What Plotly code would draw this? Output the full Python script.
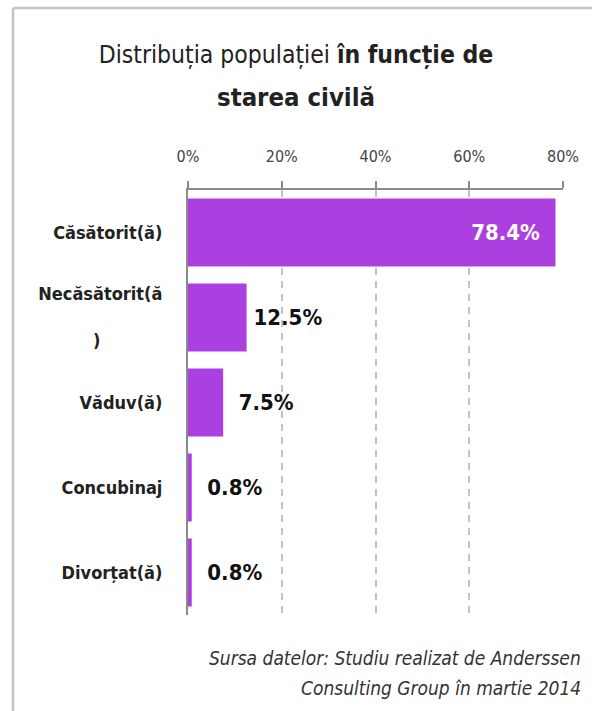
import plotly.graph_objects as go

categories = ["Căsătorit(ă)", "Necăsătorit(ă)", "Văduv(ă)", "Concubinaj", "Divorțat(ă)"]
values = [78.4, 12.5, 7.5, 0.8, 0.8]
tick_vals = [0, 20, 40, 60, 80]
tick_text = ["0%", "20%", "40%", "60%", "80%"]
title_lines = ["Distribuția populației <b>în funcție de</b>", "<b>starea civilă</b>"]
source_lines = ["Sursa datelor: Studiu realizat de Anderssen", "Consulting Group în martie 2014"]

W, H = 592, 711
L, R, T, B = 188, 29, 190, 96
PW, PH = W - L - R, H - T - B

FONT = "DejaVu Sans Condensed, DejaVu Sans, sans-serif"
PURPLE = "#ab3fe0"
NB = "\u00a0"
THIN = "\u2009"


def px_x(p):
    return (p - L) / PW


def px_y(p):
    return 1 - (p - T) / PH


# wrap the long label the way the original does (")" on its own line)
cat_text = []
for c in categories:
    if len(c) < 14:
        cat_text.append("<b>" + c + "</b>")
    else:
        cat_text.append("<b>" + c[:-1] + "<br><br>)" + NB * 11 + "</b>")

positions = ["inside" if v > 40 else "outside" for v in values]
templates = []
for v, pos in zip(values, positions):
    if pos == "inside":
        templates.append("<b>%{x:.1f}%</b>" + NB * 2)
    elif v > 10:
        templates.append(THIN + "<b>%{x:.1f}%</b>")
    else:
        templates.append(NB * 2 + "<b>%{x:.1f}%</b>")

fig = go.Figure(
    go.Bar(
        x=values,
        y=categories,
        orientation="h",
        marker=dict(color=PURPLE, line=dict(width=0)),
        text=values,
        texttemplate=templates,
        textposition=positions,
        insidetextanchor="end",
        constraintext="none",
        insidetextfont=dict(color="white", size=22, family=FONT),
        outsidetextfont=dict(color="#111111", size=22, family=FONT),
        cliponaxis=False,
        hoverinfo="skip",
    )
)

annotations = [
    dict(
        text=title_lines[1],
        xref="paper", yref="paper",
        x=px_x(W / 2), y=px_y(97),
        xanchor="center", yanchor="middle",
        showarrow=False,
        font=dict(size=25.5, color="#222222", family=FONT),
    )
]
for line, yc in zip(source_lines, [658, 688]):
    annotations.append(
        dict(
            text="<i>" + line + "</i>",
            xref="paper", yref="paper",
            x=px_x(583), y=px_y(yc),
            xanchor="right", yanchor="middle",
            showarrow=False,
            font=dict(size=19, color="#333333", family=FONT),
        )
    )

fig.update_layout(
    width=W,
    height=H,
    margin=dict(l=L, r=R, t=T, b=B),
    paper_bgcolor="white",
    plot_bgcolor="white",
    bargap=0.2,
    showlegend=False,
    font=dict(family=FONT, color="#333333"),
    title=dict(
        text=title_lines[0],
        x=0.5,
        xref="container",
        xanchor="center",
        y=1 - 54 / H,
        yref="container",
        yanchor="middle",
        font=dict(size=24.5, color="#222222", family=FONT),
    ),
    xaxis=dict(
        side="top",
        range=[0, 80],
        tickvals=tick_vals,
        ticktext=tick_text,
        tickfont=dict(size=16, color="#444444"),
        ticks="outside",
        ticklen=7,
        tickwidth=2,
        tickcolor="#8a8a8a",
        ticklabelstandoff=13,
        showline=True,
        linecolor="#8a8a8a",
        linewidth=2,
        showgrid=True,
        gridcolor="#c2c2c2",
        gridwidth=2,
        griddash="7px,6px",
        zeroline=False,
        fixedrange=True,
    ),
    xaxis2=dict(
        overlaying="x",
        side="top",
        range=[0, 80],
        tickvals=tick_vals,
        showticklabels=False,
        ticks="inside",
        ticklen=7,
        tickwidth=2,
        tickcolor="#8a8a8a",
        showgrid=False,
        zeroline=False,
    ),
    yaxis=dict(
        categoryorder="array",
        categoryarray=categories,
        autorange="reversed",
        tickvals=categories,
        ticktext=cat_text,
        tickfont=dict(size=18, color="#222222", family=FONT),
        ticklabelstandoff=20,
        showline=True,
        linecolor="#8a8a8a",
        linewidth=2,
        showgrid=False,
        zeroline=False,
        fixedrange=True,
    ),
    annotations=annotations,
    shapes=[
        dict(type="line", xref="paper", yref="paper", x0=px_x(13), x1=px_x(13),
             y0=px_y(8), y1=px_y(720), line=dict(color="#c4c4c4", width=2.5)),
        dict(type="line", xref="paper", yref="paper", x0=px_x(13), x1=px_x(600),
             y0=px_y(8), y1=px_y(8), line=dict(color="#c4c4c4", width=2.5)),
    ],
)

fig.write_html(
    "out.html",
    config={"displayModeBar": False},
    post_script="document.body.style.margin='0';document.body.style.overflow='hidden';",
)
